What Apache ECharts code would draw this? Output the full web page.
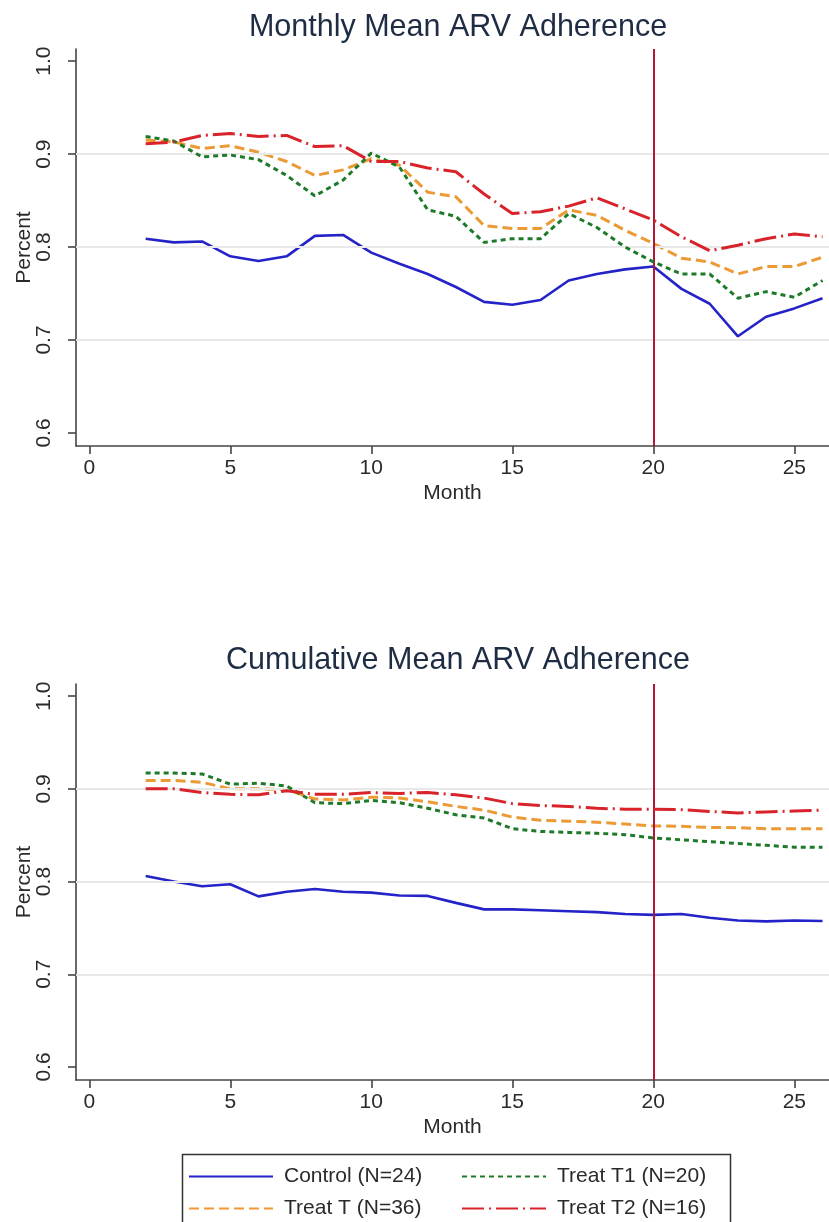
<!DOCTYPE html>
<html>
<head>
<meta charset="utf-8">
<script src="https://cdn.jsdelivr.net/npm/echarts@6/dist/echarts.min.js"></script>
<style>
html,body{margin:0;padding:0;background:#fff;}
#c{width:829px;height:1222px;}
</style>
</head>
<body>
<div id="c"></div>
<script>
// ---- data ----
var months = [2,3,4,5,6,7,8,9,10,11,12,13,14,15,16,17,18,19,20,21,22,23,24,25,26];
var seriesNames = ['Control (N=24)', 'Treat T (N=36)', 'Treat T1 (N=20)', 'Treat T2 (N=16)'];
var xTicks = [0,5,10,15,20,25];
var yTicks = [0.6,0.7,0.8,0.9,1.0];
var yGrid = [0.7,0.8,0.9];
var interventionMonth = 20;

// Monthly mean adherence
var monthlyControl = [0.809,0.805,0.806,0.790,0.785,0.790,0.812,0.813,0.794,0.782,0.771,0.757,0.741,0.738,0.743,0.764,0.771,0.776,0.779,0.755,0.739,0.704,0.725,0.734,0.745];
var monthlyT  = [0.915,0.913,0.906,0.909,0.902,0.892,0.877,0.883,0.895,0.888,0.859,0.854,0.823,0.820,0.820,0.840,0.834,0.818,0.804,0.788,0.784,0.771,0.779,0.779,0.789];
var monthlyT1 = [0.919,0.914,0.897,0.899,0.894,0.877,0.855,0.872,0.901,0.886,0.840,0.833,0.805,0.809,0.809,0.836,0.821,0.800,0.784,0.771,0.771,0.745,0.752,0.746,0.764];
var monthlyT2 = [0.911,0.913,0.920,0.922,0.919,0.920,0.908,0.909,0.892,0.892,0.885,0.881,0.857,0.836,0.838,0.844,0.853,0.841,0.829,0.811,0.796,0.802,0.809,0.814,0.811];

// Cumulative mean adherence
var cumControl = [0.806,0.800,0.795,0.797,0.784,0.789,0.792,0.789,0.788,0.785,0.7845,0.777,0.770,0.770,0.769,0.768,0.767,0.765,0.764,0.765,0.761,0.758,0.757,0.758,0.7575];
var cumT  = [0.909,0.909,0.907,0.900,0.900,0.899,0.889,0.888,0.891,0.890,0.886,0.881,0.877,0.8695,0.866,0.865,0.864,0.862,0.860,0.8595,0.8584,0.858,0.857,0.857,0.857];
var cumT1 = [0.917,0.917,0.916,0.905,0.906,0.903,0.885,0.884,0.8875,0.885,0.879,0.872,0.8685,0.857,0.854,0.853,0.852,0.8505,0.847,0.845,0.843,0.841,0.839,0.837,0.837];
var cumT2 = [0.900,0.900,0.896,0.894,0.8935,0.898,0.894,0.894,0.896,0.895,0.896,0.8935,0.890,0.884,0.882,0.881,0.879,0.878,0.878,0.8775,0.8756,0.874,0.875,0.876,0.877];

// ---- styles ----
var styles = [
  {color:'#2323c8', width:2.6, type:'solid'},
  {color:'#eb9a35', width:3, type:[10,5]},
  {color:'#1e7a28', width:3, type:[5,4]},
  {color:'#d8232a', width:3, type:[22,5,2,5]}
];
var FONT = 'Liberation Sans, Arial, sans-serif';
var TXT = '#2a2a2a';

function pairs(vals){ return months.map(function(m,i){ return [m, vals[i]]; }); }

function makeAxes(idx){
  return {
    x: {
      type:'value', gridIndex:idx, min:-0.47, max:26.23,
      name:'Month', nameLocation:'middle', nameGap:37,
      nameTextStyle:{fontFamily:FONT, fontSize:21, color:TXT},
      axisLine:{show:true, onZero:false, lineStyle:{color:'#444', width:1.6}},
      axisTick:{show:true, length:8, customValues:xTicks, lineStyle:{color:'#444', width:1.6}},
      axisLabel:{customValues:xTicks, margin:12, fontFamily:FONT, fontSize:21, color:TXT},
      splitLine:{show:false}
    },
    y: {
      type:'value', gridIndex:idx, min:0.586, max:1.013,
      name:'Percent', nameLocation:'middle', nameGap:41, nameRotate:90, nameMoveOverlap:false,
      nameTextStyle:{fontFamily:FONT, fontSize:21, color:TXT},
      axisLine:{show:true, onZero:false, lineStyle:{color:'#444', width:1.6}},
      axisTick:{show:true, length:8, customValues:yTicks, lineStyle:{color:'#444', width:1.6}},
      axisLabel:{customValues:yTicks, rotate:90, margin:21, fontFamily:FONT, fontSize:21, color:TXT,
        formatter:function(v){ return (+v).toFixed(1); }},
      splitLine:{show:false}
    }
  };
}

var a0 = makeAxes(0), a1 = makeAxes(1);

function buildSeries(idx, sets){
  var out = [];
  out.push({
    type:'line', xAxisIndex:idx, yAxisIndex:idx, name:'grid'+idx, data:[[10,0.8]],
    symbol:'none', lineStyle:{opacity:0}, silent:true, z:1,
    markLine:{silent:true, symbol:['none','none'], label:{show:false},
      lineStyle:{color:'#e8e8e8', width:2, type:'solid'},
      data: yGrid.map(function(v){ return {yAxis:v}; })}
  });
  sets.forEach(function(vals, i){
    out.push({
      type:'line', name:seriesNames[i], xAxisIndex:idx, yAxisIndex:idx,
      data:pairs(vals), symbol:'none', z:3+i,
      lineStyle:{color:styles[i].color, width:styles[i].width, type:styles[i].type},
      itemStyle:{color:styles[i].color}
    });
  });
  out.push({
    type:'line', xAxisIndex:idx, yAxisIndex:idx, name:'vline'+idx, data:[[10,0.8]],
    symbol:'none', lineStyle:{opacity:0}, silent:true, z:10,
    markLine:{silent:true, symbol:['none','none'], label:{show:false},
      lineStyle:{color:'#b01838', width:2, type:'solid'},
      data:[{xAxis:interventionMonth}]}
  });
  return out;
}

var series = buildSeries(0, [monthlyControl, monthlyT, monthlyT1, monthlyT2])
  .concat(buildSeries(1, [cumControl, cumT, cumT1, cumT2]));

function legendItem(name, left, top){
  return {
    data:[name], left:left, top:top, orient:'horizontal', padding:0,
    itemWidth:84, itemHeight:14, selectedMode:false,
    itemStyle:{opacity:0},
    textStyle:{fontFamily:FONT, fontSize:21, color:TXT, padding:[0,0,0,6]}
  };
}

var option = {
  animation:false,
  backgroundColor:'#ffffff',
  title:[
    {text:'Monthly Mean ARV Adherence', left:453, top:7, textAlign:'center',
     textStyle:{fontFamily:FONT, fontSize:30.5, fontWeight:'normal', color:'#1e2c44'}},
    {text:'Cumulative Mean ARV Adherence', left:453, top:640, textAlign:'center',
     textStyle:{fontFamily:FONT, fontSize:30.5, fontWeight:'normal', color:'#1e2c44'}}
  ],
  grid:[
    {left:76, top:49, right:0, height:397},
    {left:76, top:684, right:0, height:396}
  ],
  xAxis:[a0.x, a1.x],
  yAxis:[a0.y, a1.y],
  legend:[
    legendItem(seriesNames[0], 188, 1166),
    legendItem(seriesNames[1], 188, 1198),
    legendItem(seriesNames[2], 461, 1166),
    legendItem(seriesNames[3], 461, 1198)
  ],
  graphic:[
    {type:'rect', left:180, top:1152, shape:{width:548, height:72},
     style:{fill:'none', stroke:'#333', lineWidth:1.5}, silent:true}
  ],
  series:series
};

var chart = echarts.init(document.getElementById('c'), null, {renderer:'canvas'});
chart.setOption(option);
</script>
</body>
</html>
